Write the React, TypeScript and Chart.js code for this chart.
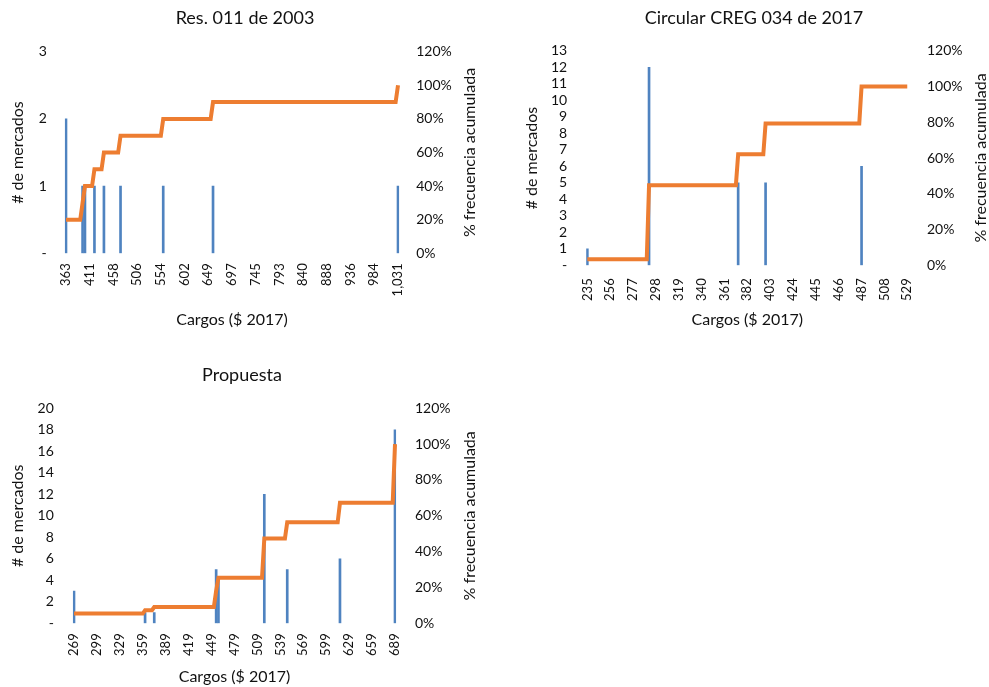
import React, { useEffect, useRef } from 'react';
import { Chart, registerables } from 'chart.js';

Chart.register(...registerables);

// Number of histogram bins (categories) on every x axis
const BIN_COUNT = 141;
const LABEL_EVERY = 10;

// ---- Res. 011 de 2003 ----
const res011TickLabels = ['363', '411', '458', '506', '554', '602', '649', '697', '745', '793', '840', '888', '936', '984', '1,031'];
const res011Bins = [0, 7, 8, 12, 16, 23, 41, 62, 140];
const res011Counts = [2, 1, 1, 1, 1, 1, 1, 1, 1];

// ---- Circular CREG 034 de 2017 ----
const creg034TickLabels = ['235', '256', '277', '298', '319', '340', '361', '382', '403', '424', '445', '466', '487', '508', '529'];
const creg034Bins = [0, 27, 66, 78, 120];
const creg034Counts = [1, 12, 5, 5, 6];

// ---- Propuesta ----
const propTickLabels = ['269', '299', '329', '359', '389', '419', '449', '479', '509', '539', '569', '599', '629', '659', '689'];
const propBins = [0, 31, 35, 62, 63, 83, 93, 116, 140];
const propCounts = [3, 1, 1, 5, 4, 12, 5, 6, 18];

const LEFT_TITLE = '# de mercados';
const RIGHT_TITLE = '% frecuencia acumulada';
const X_TITLE = 'Cargos ($ 2017)';

const FONT = 'Lato, "Open Sans", sans-serif';
const TEXT = '#111111';
const BAR_COLOR = '#4f83c0';
const LINE_COLOR = '#ED7D31';

type PanelCfg = {
  title: string;
  ticks: string[];
  bins: number[];
  counts: number[];
  yMax: number;
  yStep: number;
  box: { left: number; top: number; width: number; height: number };
  titlePad: { top: number; bottom: number };
  leftW: number; leftPad: number; leftTitlePad: number;
  rightW: number; rightPad: number; rightTitleX: number;
  xH: number; xPad: number; xTitlePad: number;
};

const PANELS: PanelCfg[] = [
  {
    title: 'Res. 011 de 2003', ticks: res011TickLabels, bins: res011Bins, counts: res011Counts,
    yMax: 3, yStep: 1,
    box: { left: 0, top: 0, width: 490, height: 340 },
    titlePad: { top: 7.2, bottom: 22.9 },
    leftW: 64.8, leftPad: 18, leftTitlePad: 8.4,
    rightW: 90.8, rightPad: 17, rightTitleX: 470,
    xH: 86.7, xPad: 10, xTitlePad: 10.4,
  },
  {
    title: 'Circular CREG 034 de 2017', ticks: creg034TickLabels, bins: creg034Bins, counts: creg034Counts,
    yMax: 13, yStep: 1,
    box: { left: 519, top: 0, width: 470, height: 340 },
    titlePad: { top: 7.2, bottom: 21.9 },
    leftW: 67.2, leftPad: 19, leftTitlePad: 3.4,
    rightW: 80.6, rightPad: 18.6, rightTitleX: 462,
    xH: 74.7, xPad: 13, xTitlePad: 10.4,
  },
  {
    title: 'Propuesta', ticks: propTickLabels, bins: propBins, counts: propCounts,
    yMax: 20, yStep: 2,
    box: { left: 0, top: 345, width: 484, height: 342 },
    titlePad: { top: 19.2, bottom: 22.5 },
    leftW: 72.85, leftPad: 19, leftTitlePad: 8.4,
    rightW: 87.85, rightPad: 18.8, rightTitleX: 470,
    xH: 63.7, xPad: 10, xTitlePad: 0.4,
  },
];

const rightTitlePlugin = {
  id: 'rightTitle',
  afterDraw(chart: any, _args: any, opts: any) {
    const { ctx, chartArea } = chart;
    ctx.save();
    ctx.translate(opts.x, (chartArea.top + chartArea.bottom) / 2);
    ctx.rotate(-Math.PI / 2);
    ctx.font = opts.font;
    ctx.fillStyle = opts.color;
    ctx.textAlign = 'center';
    ctx.textBaseline = 'middle';
    ctx.fillText(opts.text, 0, 0);
    ctx.restore();
  },
};

function buildChart(canvas: HTMLCanvasElement, p: PanelCfg) {
  const bars: (number | null)[] = new Array(BIN_COUNT).fill(null);
  p.bins.forEach((b, i) => { bars[b] = p.counts[i]; });
  const total = p.counts.reduce((a, b) => a + b, 0);
  const cum: number[] = [];
  let run = 0;
  for (let i = 0; i < BIN_COUNT; i++) {
    run += bars[i] || 0;
    cum.push((run / total) * 100);
  }
  const labels = Array.from({ length: BIN_COUNT }, (_, i) => (i % LABEL_EVERY === 0 ? p.ticks[i / LABEL_EVERY] : ''));

  return new Chart(canvas, {
    type: 'bar',
    data: {
      labels,
      datasets: [
        {
          type: 'line',
          data: cum,
          yAxisID: 'y2',
          borderColor: LINE_COLOR,
          borderWidth: 4,
          pointRadius: 0,
          tension: 0,
          order: 1,
        } as any,
        {
          type: 'bar',
          data: bars,
          yAxisID: 'y',
          backgroundColor: BAR_COLOR,
          barThickness: 2,
          order: 2,
        } as any,
      ],
    },
    options: {
      responsive: false,
      animation: false,
      layout: { padding: 0 },
      plugins: {
        legend: { display: false },
        tooltip: { enabled: false },
        title: {
          display: true,
          text: p.title,
          color: TEXT,
          font: { family: FONT, size: 18, weight: 'normal' },
          padding: p.titlePad,
        },
        rightTitle: { x: p.rightTitleX, text: RIGHT_TITLE, font: `16px ${FONT}`, color: TEXT },
      } as any,
      scales: {
        x: {
          type: 'category',
          offset: true,
          grid: { display: false, drawTicks: false },
          border: { display: false },
          ticks: {
            autoSkip: false,
            minRotation: 90,
            maxRotation: 90,
            padding: p.xPad,
            color: TEXT,
            font: { family: FONT, size: 13 },
            callback: (_v: any, i: number) => (labels[i] ? labels[i] : null),
          },
          title: {
            display: true,
            text: X_TITLE,
            color: TEXT,
            font: { family: FONT, size: 16 },
            padding: { top: 0, bottom: p.xTitlePad },
          },
          afterFit: (s: any) => { s.height = p.xH; },
        },
        y: {
          position: 'left',
          min: 0,
          max: p.yMax,
          grid: { display: false, drawTicks: false },
          border: { display: false },
          ticks: {
            stepSize: p.yStep,
            autoSkip: false,
            padding: p.leftPad,
            color: TEXT,
            font: { family: FONT, size: 14 },
            callback: (v: any) => (v === 0 ? '-' : String(v)),
          },
          title: {
            display: true,
            text: LEFT_TITLE,
            color: TEXT,
            font: { family: FONT, size: 16 },
            padding: { top: p.leftTitlePad, bottom: 0 },
          },
          afterFit: (s: any) => { s.width = p.leftW; },
        },
        y2: {
          position: 'right',
          min: 0,
          max: 120,
          grid: { display: false, drawTicks: false },
          border: { display: false },
          ticks: {
            stepSize: 20,
            autoSkip: false,
            padding: p.rightPad,
            color: TEXT,
            font: { family: FONT, size: 14 },
            callback: (v: any) => `${v}%`,
          },
          afterFit: (s: any) => { s.width = p.rightW; },
        },
      },
    } as any,
    plugins: [rightTitlePlugin as any],
  });
}

function Panel({ cfg }: { cfg: PanelCfg }) {
  const ref = useRef<HTMLCanvasElement | null>(null);
  useEffect(() => {
    if (!ref.current) return;
    const chart = buildChart(ref.current, cfg);
    return () => chart.destroy();
  }, [cfg]);
  return (
    <canvas
      ref={ref}
      width={cfg.box.width}
      height={cfg.box.height}
      style={{
        position: 'absolute',
        left: cfg.box.left,
        top: cfg.box.top,
        width: cfg.box.width,
        height: cfg.box.height,
      }}
    />
  );
}

export default function App() {
  return (
    <div style={{ position: 'absolute', left: 0, top: 0, width: 989, height: 687, background: '#fff' }}>
      {PANELS.map((p, i) => (
        <Panel key={i} cfg={p} />
      ))}
    </div>
  );
}
